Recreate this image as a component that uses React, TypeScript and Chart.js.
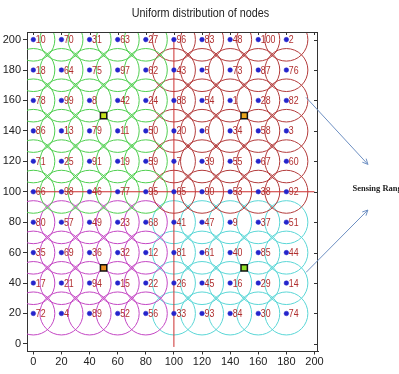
import React, { useEffect, useRef } from "react";
import { Chart, registerables } from "chart.js";

Chart.register(...registerables);

const TITLE = "Uniform distribution of nodes";
const X_TICKS = [0, 20, 40, 60, 80, 100, 120, 140, 160, 180, 200];
const Y_TICKS = [0, 20, 40, 60, 80, 100, 120, 140, 160, 180, 200];
const COLS_X = [0, 20, 40, 60, 80, 100, 120, 140, 160, 180];
const ROWS_Y = [200, 180, 160, 140, 120, 100, 80, 60, 40, 20];
const NODE_IDS = [
  [10, 70, 31, 63, 27, 96, 83, 48, 100, 2],
  [18, 64, 75, 97, 62, 43, 5, 73, 87, 76],
  [78, 99, 8, 42, 24, 88, 54, 1, 28, 82],
  [86, 13, 79, 11, 50, 20, 6, 34, 58, 3],
  [71, 25, 91, 19, 59, 7, 39, 55, 67, 60],
  [66, 98, 46, 77, 95, 65, 90, 53, 38, 92],
  [80, 57, 49, 23, 68, 41, 47, 9, 37, 51],
  [35, 69, 36, 32, 12, 81, 61, 40, 85, 44],
  [17, 21, 94, 15, 22, 26, 45, 16, 29, 14],
  [72, 4, 89, 52, 56, 33, 93, 84, 30, 74],
];
const SPLIT_X = 100;
const SPLIT_Y = 100;
const HEAD_X = [50, 150, 50, 150];
const HEAD_Y = [150, 150, 50, 50];
const HEAD_FILL = ["#c6e21e", "#eaa41c", "#ec8e1e", "#8fe02a"];
const ARROW_FROM = [
  [194, 162],
  [194, 47],
];
const ARROW_TO = [
  [238, 118],
  [238, 88],
];
const NOTE_TEXT = "Sensing Range";
const NOTE_POS = [227, 102];

const COLORS = {
  green: "#4fcf4f",
  red: "#b33b3b",
  magenta: "#c447c4",
  cyan: "#5ad6d6",
  node: "#2424cc",
  label: "#b02e2e",
  split: "#cc2e2e",
  arrow: "#6d8fc2",
};
const SANS = "'Liberation Sans', Arial, sans-serif";

export default function App() {
  const ref = useRef<HTMLCanvasElement>(null);

  useEffect(() => {
    const all: { x: number; y: number; id: number }[] = [];
    ROWS_Y.forEach((y, r) =>
      COLS_X.forEach((x, c) => all.push({ x, y, id: NODE_IDS[r][c] }))
    );
    const group = (fn: (p: { x: number; y: number }) => boolean) =>
      all.filter(fn).map((p) => ({ x: p.x, y: p.y }));

    const circleDs = (data: any[], color: string) => ({
      data,
      pointRadius: 21.5,
      pointHoverRadius: 21.5,
      pointBackgroundColor: "rgba(0,0,0,0)",
      pointBorderColor: color,
      pointBorderWidth: 1,
      showLine: false,
      order: 4,
    });

    const labelPlugin = {
      id: "nodeLabels",
      afterDatasetsDraw(chart: any) {
        const meta = chart.getDatasetMeta(5);
        const ctx = chart.ctx;
        ctx.save();
        ctx.font = `11px ${SANS}`;
        ctx.fillStyle = COLORS.label;
        ctx.textBaseline = "middle";
        ctx.textAlign = "left";
        const k = 0.8;
        meta.data.forEach((el: any, i: number) => {
          ctx.save();
          ctx.translate(el.x + 2.5, el.y + 0.5);
          ctx.scale(k, 1);
          ctx.fillText(String(all[i].id), 0, 0);
          ctx.restore();
        });
        ctx.restore();
      },
    };

    const framePlugin = {
      id: "frame",
      afterDraw(chart: any) {
        const { ctx, chartArea: a, scales, width } = chart;
        const xs = scales.x;
        const ys = scales.y;
        ctx.save();
        // title across full canvas width
        ctx.font = `12px ${SANS}`;
        ctx.fillStyle = "#222";
        ctx.textAlign = "center";
        ctx.textBaseline = "middle";
        ctx.save();
        ctx.translate(width / 2 + 1, 14);
        ctx.scale(0.9, 1);
        ctx.fillText(TITLE, 0, 0);
        ctx.restore();

        ctx.strokeStyle = "#333";
        ctx.lineWidth = 1;
        ctx.beginPath();
        ctx.moveTo(a.left, a.top + 0.5);
        ctx.lineTo(a.right, a.top + 0.5);
        ctx.moveTo(a.right - 0.5, a.top);
        ctx.lineTo(a.right - 0.5, a.bottom);
        Y_TICKS.forEach((v) => {
          const py = Math.round(ys.getPixelForValue(v)) + 0.5;
          ctx.moveTo(a.right, py);
          ctx.lineTo(a.right - 4, py);
        });
        X_TICKS.forEach((v) => {
          const px = Math.round(xs.getPixelForValue(v)) + 0.5;
          ctx.moveTo(px, a.top);
          ctx.lineTo(px, a.top + 3);
        });
        ctx.stroke();

        // arrows
        ctx.strokeStyle = COLORS.arrow;
        ctx.lineWidth = 1;
        ARROW_FROM.forEach((f, i) => {
          const t = ARROW_TO[i];
          const x1 = xs.getPixelForValue(f[0]);
          const y1 = ys.getPixelForValue(f[1]);
          const x2 = xs.getPixelForValue(t[0]);
          const y2 = ys.getPixelForValue(t[1]);
          const ang = Math.atan2(y2 - y1, x2 - x1);
          ctx.beginPath();
          ctx.moveTo(x1, y1);
          ctx.lineTo(x2, y2);
          const L = 6;
          ctx.moveTo(x2, y2);
          ctx.lineTo(x2 - L * Math.cos(ang - 0.45), y2 - L * Math.sin(ang - 0.45));
          ctx.moveTo(x2, y2);
          ctx.lineTo(x2 - L * Math.cos(ang + 0.45), y2 - L * Math.sin(ang + 0.45));
          ctx.stroke();
        });
        ctx.font = "bold 8.5px 'Liberation Serif', serif";
        ctx.fillStyle = "#222";
        ctx.textBaseline = "middle";
        ctx.textAlign = "left";
        ctx.fillText(
          NOTE_TEXT,
          xs.getPixelForValue(NOTE_POS[0]),
          ys.getPixelForValue(NOTE_POS[1])
        );
        ctx.restore();
      },
    };

    const chart = new Chart(ref.current as HTMLCanvasElement, {
      type: "scatter",
      data: {
        datasets: [
          circleDs(group((p) => p.x < SPLIT_X && p.y >= SPLIT_Y), COLORS.green),
          circleDs(group((p) => p.x >= SPLIT_X && p.y >= SPLIT_Y), COLORS.red),
          circleDs(group((p) => p.x < SPLIT_X && p.y < SPLIT_Y), COLORS.magenta),
          circleDs(group((p) => p.x >= SPLIT_X && p.y < SPLIT_Y), COLORS.cyan),
          {
            data: [
              { x: SPLIT_X, y: -2 },
              { x: SPLIT_X, y: 200 },
              { x: NaN, y: NaN },
              { x: -2, y: SPLIT_Y },
              { x: 200, y: SPLIT_Y },
            ],
            showLine: true,
            spanGaps: false,
            borderColor: COLORS.split,
            borderWidth: 1,
            pointRadius: 0,
            order: 3,
          } as any,
          {
            data: all.map((p) => ({ x: p.x, y: p.y })),
            pointRadius: 2.3,
            pointBackgroundColor: COLORS.node,
            pointBorderColor: COLORS.node,
            pointBorderWidth: 0.5,
            order: 2,
          },
          {
            data: HEAD_X.map((x, i) => ({ x, y: HEAD_Y[i] })),
            pointStyle: "rect",
            pointRadius: 4.5,
            pointBackgroundColor: HEAD_FILL,
            pointBorderColor: "#111",
            pointBorderWidth: 1.5,
            order: 1,
          } as any,
        ],
      },
      options: {
        responsive: false,
        animation: false,
        devicePixelRatio: 1,
        layout: { padding: { left: 0, right: 81, top: 32, bottom: 0 } },
        plugins: {
          legend: { display: false },
          tooltip: { enabled: false },
          title: { display: false },
        },
        scales: {
          x: {
            type: "linear",
            min: -4.5,
            max: 202.5,
            afterBuildTicks: (s: any) => {
              s.ticks = X_TICKS.map((v) => ({ value: v }));
            },
            afterFit: (s: any) => {
              s.height = 16;
            },
            grid: { drawOnChartArea: false, drawTicks: true, tickLength: 3, color: "#333" },
            border: { color: "#333" },
            ticks: {
              color: "#222",
              padding: 1,
              maxRotation: 0,
              autoSkip: false,
              font: { family: SANS, size: 11 },
            },
          },
          y: {
            type: "linear",
            min: -5,
            max: 205,
            afterBuildTicks: (s: any) => {
              s.ticks = Y_TICKS.map((v) => ({ value: v }));
            },
            afterFit: (s: any) => {
              s.width = 27;
            },
            grid: { drawOnChartArea: false, drawTicks: true, tickLength: 4, color: "#333" },
            border: { color: "#333" },
            ticks: {
              color: "#222",
              padding: 2,
              autoSkip: false,
              font: { family: SANS, size: 11 },
            },
          },
        },
      } as any,
      plugins: [labelPlugin, framePlugin],
    });
    return () => chart.destroy();
  }, []);

  return (
    <div style={{ position: "fixed", left: 0, top: 0, width: 399, height: 374, background: "#fff" }}>
      <canvas ref={ref} width={399} height={374} style={{ display: "block" }} />
    </div>
  );
}
